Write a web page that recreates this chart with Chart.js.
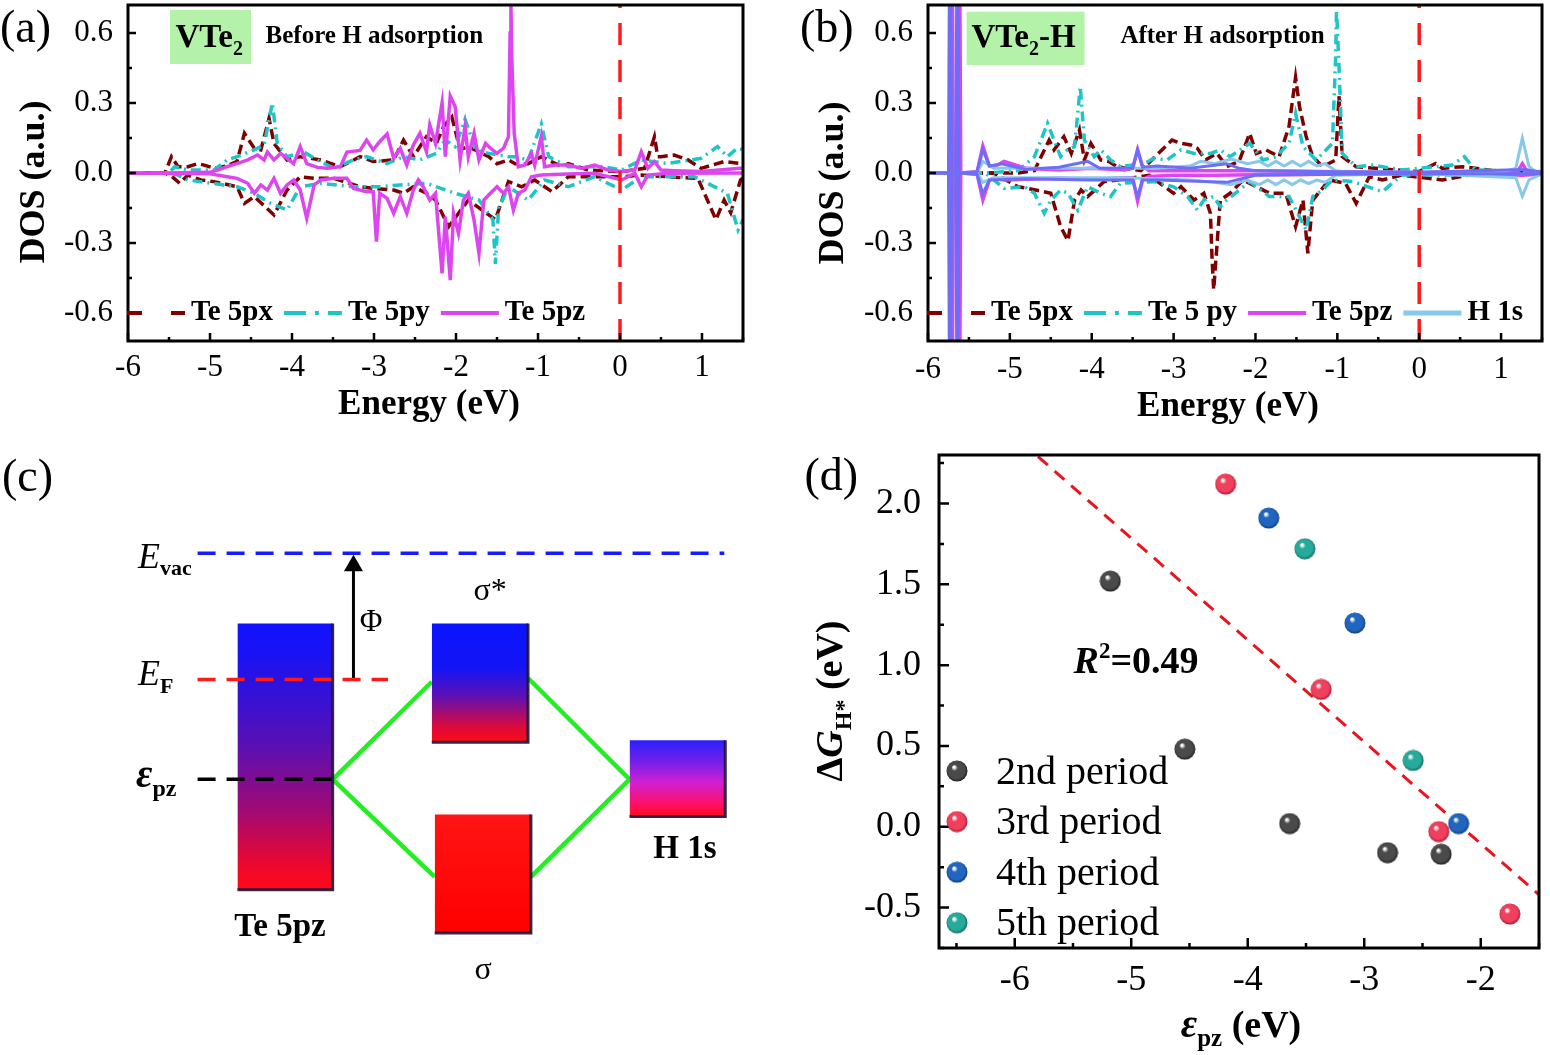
<!DOCTYPE html>
<html>
<head>
<meta charset="utf-8">
<script src="https://cdn.jsdelivr.net/npm/chart.js@4.4.1/dist/chart.umd.min.js"></script>
<style>
  body { margin: 0; background: #fff; width: 1550px; height: 1055px; position: relative; overflow: hidden; }
  canvas { position: absolute; }
</style>
</head>
<body>
<canvas id="chartA" width="780" height="425" style="left:0;top:0"></canvas>
<canvas id="chartB" width="750" height="425" style="left:800px;top:0"></canvas>
<canvas id="chartC" width="780" height="615" style="left:0;top:440px"></canvas>
<canvas id="chartD" width="760" height="615" style="left:790px;top:440px"></canvas>
<script>
// ---------- tick labels ----------
const energyTicks = [-6, -5, -4, -3, -2, -1, 0, 1];
const dosTicks = [-0.6, -0.3, 0, 0.3, 0.6];
const epzTicks = [-6, -5, -4, -3, -2];
const dgTicks = [-0.5, 0, 0.5, 1, 1.5, 2];
const fermiE = 0;

// ---------- (a) VTe2, before H adsorption ----------
const aPxUpE = [-6, -5.55, -5.47, -5.39, -5.27, -5.15, -5.07, -4.95, -4.8, -4.67, -4.58, -4.46, -4.38, -4.28, -4.22, -4.06, -3.90, -3.65, -3.41, -3.17, -3.01, -2.76, -2.64, -2.52, -2.36, -2.24, -2.15, -2.05, -1.95, -1.85, -1.60, -1.50, -1.36, -1.28, -1.12, -0.96, -0.71, -0.63, -0.39, 0.02, 0.3, 0.42, 0.46, 0.50, 0.66, 0.83, 0.99, 1.27, 1.47, 1.5];
const aPxUp = [0, 0, 0.07, 0.027, 0.027, 0.04, 0.034, 0.02, 0.03, 0.05, 0.17, 0.106, 0.099, 0.234, 0.127, 0.056, 0.07, 0.056, 0.027, 0.07, 0.049, 0.056, 0.141, 0.07, 0.156, 0.127, 0.2, 0.24, 0.1, 0.113, 0.07, 0.04, 0.056, 0.04, 0.04, 0.07, 0.027, 0.04, 0.013, 0.006, 0.02, 0.155, 0.07, 0.07, 0.077, 0.056, 0.02, 0.049, 0.041, 0.04];
const aPxDnE = [-6, -5.55, -5.47, -5.37, -5.27, -5.11, -4.95, -4.67, -4.58, -4.46, -4.22, -4.06, -3.90, -3.73, -3.49, -3.17, -3.01, -2.76, -2.64, -2.52, -2.36, -2.25, -2.09, -1.85, -1.52, -1.36, -1.20, -1.04, -0.83, -0.63, -0.21, 0.02, 0.26, 0.58, 0.95, 1.17, 1.27, 1.35, 1.47, 1.5];
const aPxDn = [0, 0, -0.013, -0.044, -0.009, -0.03, -0.037, -0.059, -0.13, -0.101, -0.18, -0.073, -0.016, -0.023, -0.023, -0.059, -0.066, -0.073, -0.087, -0.059, -0.087, -0.116, -0.23, -0.116, -0.2, -0.037, -0.059, -0.03, -0.08, -0.016, -0.016, -0.016, -0.009, -0.016, -0.023, -0.2, -0.116, -0.17, -0.03, -0.02];
const aPyUpE = [-6, -5.5, -5.43, -5.27, -4.95, -4.79, -4.67, -4.46, -4.34, -4.24, -4.18, -4.06, -3.86, -3.69, -3.49, -3.25, -3.09, -2.84, -2.64, -2.44, -2.24, -2.13, -2.01, -1.89, -1.76, -1.60, -1.36, -1.28, -1.12, -0.96, -0.87, -0.63, -0.21, 0.02, 0.26, 0.58, 0.99, 1.19, 1.31, 1.43, 1.5];
const aPyUp = [0, 0, 0.027, 0.013, 0.013, 0.056, 0.07, 0.099, 0.12, 0.3, 0.127, 0.07, 0.091, 0.056, 0.02, 0.056, 0.07, 0.04, 0.07, 0.056, 0.084, 0.141, 0.113, 0.23, 0.099, 0.084, 0.07, 0.07, 0.056, 0.21, 0.07, 0.027, 0.027, 0.013, 0.056, 0.041, 0.063, 0.113, 0.07, 0.106, 0.1];
const aPyDnE = [-6, -5.5, -5.39, -5.27, -4.83, -4.67, -4.46, -4.26, -4.06, -3.90, -3.65, -3.25, -2.93, -2.68, -2.36, -2.01, -1.72, -1.55, -1.52, -1.48, -1.36, -1.12, -0.92, -0.63, -0.31, 0.02, 0.26, 0.91, 1.31, 1.44, 1.5];
const aPyDn = [0, 0, -0.009, -0.03, -0.051, -0.059, -0.087, -0.13, -0.159, -0.059, -0.044, -0.059, -0.059, -0.051, -0.044, -0.087, -0.116, -0.2, -0.39, -0.15, -0.059, -0.116, -0.03, -0.059, -0.016, -0.073, -0.016, -0.016, -0.087, -0.244, -0.2];
const aPzUpE = [-6, -5.5, -5.0, -4.91, -4.79, -4.67, -4.54, -4.42, -4.34, -4.30, -4.22, -4.14, -4.06, -3.98, -3.90, -3.82, -3.69, -3.57, -3.41, -3.33, -3.17, -3.09, -3.01, -2.93, -2.84, -2.76, -2.68, -2.60, -2.52, -2.44, -2.36, -2.32, -2.25, -2.17, -2.13, -2.07, -2.01, -1.95, -1.89, -1.85, -1.78, -1.72, -1.64, -1.58, -1.50, -1.42, -1.36, -1.34, -1.33, -1.32, -1.29, -1.24, -1.16, -1.08, -1.04, -0.96, -0.92, -0.79, -0.63, -0.47, -0.31, -0.15, 0.02, 0.18, 0.26, 0.34, 0.42, 0.50, 0.66, 0.99, 1.47, 1.5];
const aPzUp = [0, 0, 0.003, 0.013, 0.027, 0.04, 0.056, 0.077, 0.056, 0.09, 0.056, 0.084, 0.063, 0.04, 0.113, 0.04, 0.024, 0.02, 0.027, 0.09, 0.097, 0.141, 0.099, 0.134, 0.167, 0.063, 0.106, 0.034, 0.120, 0.170, 0.091, 0.206, 0.127, 0.30, 0.07, 0.33, 0.284, 0.056, 0.199, 0.07, 0.170, 0.056, 0.127, 0.106, 0.084, 0.106, 0.156, 0.6, 0.72, 0.5, 0.17, 0.027, 0.034, 0.084, 0.034, 0.156, 0.027, 0.034, 0.034, 0.02, 0.034, 0.013, 0.006, 0.013, 0.091, 0.02, 0.049, 0.013, 0.01, 0.006, 0.02, 0.02];
const aPzDnE = [-6, -5.0, -4.91, -4.79, -4.67, -4.54, -4.46, -4.38, -4.30, -4.22, -4.14, -4.06, -3.98, -3.90, -3.82, -3.73, -3.65, -3.49, -3.33, -3.25, -3.09, -3.01, -2.97, -2.93, -2.84, -2.76, -2.68, -2.60, -2.52, -2.46, -2.40, -2.32, -2.25, -2.21, -2.17, -2.13, -2.07, -2.03, -1.97, -1.91, -1.85, -1.78, -1.72, -1.66, -1.58, -1.50, -1.42, -1.36, -1.30, -1.24, -1.16, -1.08, -0.96, -0.63, -0.31, 0.02, 0.18, 0.26, 0.34, 0.58, 1.47, 1.5];
const aPzDn = [0, -0.003, -0.009, -0.016, -0.023, -0.044, -0.087, -0.051, -0.073, -0.023, -0.087, -0.051, -0.03, -0.073, -0.194, -0.051, -0.03, -0.023, -0.023, -0.066, -0.08, -0.08, -0.294, -0.087, -0.109, -0.173, -0.101, -0.173, -0.073, -0.03, -0.059, -0.116, -0.087, -0.259, -0.43, -0.187, -0.459, -0.173, -0.259, -0.116, -0.087, -0.201, -0.344, -0.116, -0.087, -0.059, -0.087, -0.059, -0.159, -0.087, -0.073, -0.016, -0.009, -0.004, -0.001, -0.03, -0.001, -0.059, -0.009, -0.001, 0, 0];

// ---------- (b) VTe2-H, after H adsorption ----------
const bPxUpE = [-6, -5.3, -4.9, -4.70, -4.52, -4.46, -4.34, -4.25, -4.15, -4.09, -4.01, -3.89, -3.79, -3.69, -3.4, -3.02, -2.91, -2.79, -2.71, -2.61, -2.47, -2.35, -2.2, -2.07, -1.99, -1.87, -1.71, -1.59, -1.51, -1.46, -1.38, -1.30, -1.18, -1.02, -0.98, -0.94, -0.77, -0.53, 0.0, 0.20, 0.28, 0.53, 1.01, 1.5];
const bPxUp = [0, 0, 0, 0.01, 0.141, 0.099, 0.156, 0.084, 0.184, 0.056, 0.127, 0.056, 0.049, 0.027, 0.01, 0.141, 0.127, 0.12, 0.106, 0.056, 0.084, 0.027, 0.05, 0.17, 0.084, 0.099, 0.07, 0.2, 0.41, 0.28, 0.155, 0.07, 0.027, 0.056, 0.33, 0.07, 0.027, 0.02, 0.006, 0.041, 0.02, 0.027, 0.006, 0.004];
const bPxDnE = [-6, -5.2, -4.90, -4.78, -4.50, -4.38, -4.29, -4.21, -4.13, -4.05, -3.85, -3.69, -3.3, -3.0, -2.91, -2.75, -2.63, -2.55, -2.53, -2.51, -2.43, -2.31, -2.15, -1.83, -1.63, -1.51, -1.42, -1.36, -1.30, -1.10, -0.90, -0.77, -0.61, -0.45, -0.21, 0.28, 0.61, 1.5];
const bPxDn = [0, 0, -0.059, -0.066, -0.087, -0.23, -0.29, -0.116, -0.073, -0.101, -0.037, -0.03, -0.01, -0.087, -0.059, -0.116, -0.087, -0.173, -0.37, -0.5, -0.116, -0.087, -0.03, -0.087, -0.087, -0.23, -0.116, -0.344, -0.116, -0.03, -0.044, -0.13, -0.016, -0.03, -0.009, -0.03, -0.009, -0.004];
const bPyUpE = [-6, -5.3, -4.9, -4.70, -4.62, -4.54, -4.46, -4.38, -4.30, -4.21, -4.14, -4.09, -3.97, -3.89, -3.77, -3.65, -3.36, -3.24, -3.08, -2.91, -2.75, -2.55, -2.43, -2.31, -2.07, -1.91, -1.75, -1.59, -1.51, -1.42, -1.26, -1.06, -1.02, -1.01, -0.98, -0.94, -0.77, -0.57, -0.21, 0.20, 0.40, 0.55, 0.69, 1.42, 1.5];
const bPyUp = [0, 0, 0.01, 0.07, 0.141, 0.213, 0.141, 0.07, 0.099, 0.113, 0.37, 0.141, 0.07, 0.099, 0.056, 0.027, 0.041, 0.063, 0.056, 0.099, 0.084, 0.084, 0.099, 0.07, 0.127, 0.056, 0.07, 0.127, 0.256, 0.113, 0.056, 0.127, 0.5, 0.70, 0.46, 0.084, 0.027, 0.034, 0.013, 0.027, 0.034, 0.07, 0.013, 0.006, 0.006];
const bPyDnE = [-6, -5.3, -5.07, -4.82, -4.70, -4.58, -4.50, -4.38, -4.29, -4.17, -4.05, -3.89, -3.77, -3.65, -3.24, -3.0, -2.83, -2.71, -2.63, -2.51, -2.43, -2.35, -2.07, -1.83, -1.59, -1.38, -1.30, -1.18, -1.06, -0.81, -0.45, -0.21, 0.20, 1.42, 1.5];
const bPyDn = [0, 0, -0.066, -0.059, -0.087, -0.173, -0.116, -0.073, -0.087, -0.159, -0.059, -0.087, -0.101, -0.044, -0.037, -0.059, -0.101, -0.159, -0.116, -0.101, -0.144, -0.116, -0.037, -0.101, -0.101, -0.244, -0.101, -0.073, -0.03, -0.037, -0.08, -0.009, -0.009, -0.001, 0];
const bPzUpE = [-6, -5.73, -5.71, -5.69, -5.64, -5.62, -5.60, -5.4, -5.33, -5.25, -5.19, -5.07, -4.8, -4.4, -4.0, -3.6, -3.5, -3.44, -3.38, -3.3, -3.0, -2.5, -2.0, -1.0, 0, 1.2, 1.26, 1.32, 1.5];
const bPzUp = [0, 0, 1.5, 0, 0, 1.5, 0, 0.005, 0.115, 0.03, 0.027, 0.05, 0.02, 0.013, 0.02, 0.013, 0.02, 0.1, 0.03, 0.01, 0.01, 0.01, 0.01, 0.005, 0.002, 0.005, 0.04, 0.005, 0.004];
const bPzDnE = [-6, -5.73, -5.71, -5.69, -5.64, -5.62, -5.60, -5.4, -5.33, -5.25, -5.19, -5.07, -4.8, -4.4, -4.0, -3.6, -3.5, -3.44, -3.38, -3.3, -3.0, -2.5, -2.0, -1.0, 0, 1.26, 1.5];
const bPzDn = [0, 0, -1.5, 0, 0, -1.5, 0, -0.005, -0.115, -0.03, -0.023, -0.03, -0.027, -0.023, -0.027, -0.02, -0.02, -0.12, -0.03, -0.015, -0.01, -0.01, -0.008, -0.005, -0.002, -0.01, -0.004];
const bHsUpE = [-6, -5.4, -5.33, -5.2, -4.8, -4.4, -4.0, -3.6, -3.2, -2.8, -2.67, -2.5, -2.3, -2.1, -1.95, -1.85, -1.75, -1.65, -1.55, -1.45, -1.35, -1.25, -1.15, -1.02, -0.9, 0, 1.0, 1.18, 1.26, 1.34, 1.42, 1.5];
const bHsUp = [0, 0, 0.05, 0.02, 0.02, 0.02, 0.02, 0.02, 0.02, 0.03, 0.05, 0.04, 0.06, 0.04, 0.05, 0.03, 0.05, 0.03, 0.05, 0.03, 0.05, 0.03, 0.04, 0.01, 0.005, 0.003, 0.003, 0.02, 0.15, 0.03, 0.005, 0.004];
const bHsDnE = [-6, -5.4, -5.33, -5.2, -4.4, -3.6, -2.8, -2.5, -2.3, -2.1, -1.95, -1.85, -1.75, -1.65, -1.55, -1.45, -1.35, -1.25, -1.15, -1.02, 0, 1.18, 1.26, 1.34, 1.5];
const bHsDn = [0, 0, -0.04, -0.02, -0.02, -0.02, -0.03, -0.04, -0.05, -0.03, -0.05, -0.03, -0.05, -0.03, -0.05, -0.03, -0.045, -0.03, -0.04, -0.01, -0.002, -0.02, -0.1, -0.03, -0.004];
const bBlueUpE = [-6, -5.75, -5.73, -5.71, -5.66, -5.64, -5.62, -5.4, -5.33, -5.25, -5.1, -4.8, -4.4, -4.05, -3.9, -3.6, -3.5, -3.44, -3.38, -3.2, -2.8, -2.35, -2.2, -2.0, -1.0, 0, 1.3, 1.5];
const bBlueUp = [0, 0, 1.5, 0, 0, 1.5, 0, 0.005, 0.1, 0.03, 0.04, 0.015, 0.025, 0.05, 0.02, 0.02, 0.02, 0.1, 0.025, 0.03, 0.02, 0.04, 0.02, 0.01, 0.005, 0.003, 0.015, 0.003];
const bBlueDnE = [-6, -5.75, -5.73, -5.71, -5.66, -5.64, -5.62, -5.4, -5.33, -5.25, -4.8, -4.05, -3.6, -3.5, -3.44, -3.38, -3.2, -2.35, -2.0, -1.0, 0, 1.5];
const bBlueDn = [0, 0, -1.5, 0, 0, -1.5, 0, -0.005, -0.09, -0.03, -0.025, -0.03, -0.03, -0.03, -0.1, -0.03, -0.03, -0.04, -0.01, -0.005, -0.003, -0.003];

// ---------- (c) orbital scheme (diagram units, y downward) ----------
const levelNames = ['Evac', 'EF', 'epz'];
const levelY = [106, 237, 340.5];
const levelStart = [192, 192, 192];
const levelEnd = [734, 388, 330];
const bandNames = ['Te 5pz', 'σ*', 'σ', 'H 1s'];
const bandLeft = [233, 433, 436, 636.5];
const bandRight = [331, 532, 535, 735];
const bandTop = [179, 179, 377, 300];
const bandBottom = [455, 302, 500, 379];
const bondX0 = [331, 331, 532, 535];
const bondY0 = [340.5, 340.5, 235.4, 441.6];
const bondX1 = [433, 436, 636.5, 636.5];
const bondY1 = [239.3, 441.6, 340.5, 340.5];
const workX = 352.4, workFrom = 237, workTo = 119;

// ---------- (d) ΔG_H* vs ε_pz ----------
const p2X = [-5.18, -4.54, -3.64, -2.80, -2.34];
const p2Y = [1.52, 0.48, 0.02, -0.16, -0.17];
const p3X = [-4.19, -3.37, -2.36, -1.75];
const p3Y = [2.12, 0.85, -0.03, -0.54];
const p4X = [-3.82, -3.08, -2.19];
const p4Y = [1.91, 1.26, 0.02];
const p5X = [-3.51, -2.58];
const p5Y = [1.72, 0.41];
const fitX = [-5.80, -1.50];
const fitY = [2.29, -0.42];

// ---------- styles ----------
const SERIF = "'Liberation Serif', 'Times New Roman', 'DejaVu Serif', serif";
const F = (style, size) => `${style} ${size}px ${SERIF}`;
const C_PX = '#800000', C_PY = '#1ec5c8', C_PZ = '#dc46ef', C_HS = '#88c8ea', C_HB = '#6e6ef4', C_EF = '#ff1a1a';
const D_PX = [10, 5], D_PY = [10, 5, 2, 5];

Chart.defaults.font.family = SERIF;
Chart.defaults.color = '#000';

const pts = (xs, ys) => xs.map((v, i) => ({ x: v, y: ys[i] }));
function trace(xs, ys, color, width, dash, order) {
  return { data: pts(xs, ys), borderColor: color, borderWidth: width, borderDash: dash || [],
           pointRadius: 0, tension: 0, fill: false, order: order };
}
// fixed axis boxes, no extra label padding
const fixH = h => s => { s.height = h; s.paddingLeft = 0; s.paddingRight = 0; };
const fixW = w => s => { s.width = w; s.paddingTop = 0; s.paddingBottom = 0; };

// inward ticks + frame
const frameTicks = {
  id: 'frameTicks',
  afterDatasetsDraw(chart, args, o) {
    const { ctx: c, chartArea: a, scales: { x, y } } = chart;
    const minors = (ticks, s) => {
      const step = ticks[1] - ticks[0], out = [];
      for (let v = ticks[0] - step / 2; v <= s.max + 1e-9; v += step / 2) {
        if (v >= s.min - 1e-9 && !ticks.some(t => Math.abs(t - v) < 1e-6)) out.push(v);
      }
      return out;
    };
    const xt = x.ticks.map(t => t.value), yt = y.ticks.map(t => t.value);
    c.save();
    c.strokeStyle = '#000';
    c.lineWidth = o.tickWidth;
    c.beginPath();
    xt.forEach(v => { const p = x.getPixelForValue(v); c.moveTo(p, a.bottom); c.lineTo(p, a.bottom - o.major); });
    minors(xt, x).forEach(v => { const p = x.getPixelForValue(v); c.moveTo(p, a.bottom); c.lineTo(p, a.bottom - o.minor); });
    yt.forEach(v => { const p = y.getPixelForValue(v); c.moveTo(a.left, p); c.lineTo(a.left + o.major, p); });
    minors(yt, y).forEach(v => { const p = y.getPixelForValue(v); c.moveTo(a.left, p); c.lineTo(a.left + o.minor, p); });
    c.stroke();
    c.lineWidth = o.frameWidth;
    c.strokeRect(a.left, a.top, a.right - a.left, a.bottom - a.top);
    c.restore();
  }
};

// mixed-font text runs
function drawRuns(c, runs, x, y, align) {
  let w = 0;
  runs.forEach(r => { c.font = r.font; w += c.measureText(r.text).width; });
  let cx = align === 'center' ? x - w / 2 : (align === 'right' ? x - w : x);
  runs.forEach(r => { c.font = r.font; c.fillText(r.text, cx, y + (r.dy || 0)); cx += c.measureText(r.text).width; });
}
const texts = {
  id: 'texts',
  afterDraw(chart, args, o) {
    const c = chart.ctx;
    c.save();
    (o.boxes || []).forEach(b => { c.fillStyle = b.color; c.fillRect(b.x, b.y, b.w, b.h); });
    c.fillStyle = '#000';
    c.textBaseline = 'alphabetic';
    (o.items || []).forEach(it => {
      if (it.rotate) {
        c.save(); c.translate(it.x, it.y); c.rotate(-Math.PI / 2);
        drawRuns(c, it.runs, 0, 0, 'center');
        c.restore();
      } else {
        drawRuns(c, it.runs, it.x, it.y, it.align || 'left');
      }
    });
    c.restore();
  }
};

// legend drawn inside the DOS panels
const dosLegend = {
  id: 'dosLegend',
  afterDraw(chart, args, o) {
    const c = chart.ctx;
    let x = chart.chartArea.left - 1;
    c.save();
    o.items.forEach(it => {
      c.beginPath();
      c.setLineDash(it.dash);
      c.strokeStyle = it.color;
      c.lineWidth = it.width;
      c.moveTo(x, o.y); c.lineTo(x + o.sample, o.y); c.stroke();
      x += o.sample + o.gap;
      c.setLineDash([]);
      c.font = o.font; c.fillStyle = '#000'; c.textBaseline = 'middle';
      c.fillText(it.label, x, o.y);
      x += c.measureText(it.label).width + o.space;
    });
    c.restore();
  }
};

function dosOptions(rightPad, tickPad, legendItems, textItems, boxes) {
  return {
    responsive: false, animation: false,
    layout: { padding: { top: 5, right: rightPad, left: 0, bottom: 0 } },
    plugins: {
      legend: { display: false }, tooltip: { enabled: false },
      frameTicks: { tickWidth: 2.5, major: 8, minor: 4, frameWidth: 3 },
      dosLegend: { y: 313, sample: 58, gap: 6, space: 11, font: F('bold', 29), items: legendItems },
      texts: { items: textItems, boxes: boxes }
    },
    scales: {
      x: {
        type: 'linear', min: -6, max: 1.5,
        afterBuildTicks: s => { s.ticks = energyTicks.map(v => ({ value: v })); },
        afterFit: fixH(84),
        grid: { display: false, drawTicks: false }, border: { display: false },
        ticks: { font: { size: 31 }, color: '#000', padding: tickPad, autoSkip: false, maxRotation: 0, callback: v => String(v) }
      },
      y: {
        type: 'linear', min: -0.72, max: 0.72,
        afterBuildTicks: s => { s.ticks = dosTicks.map(v => ({ value: v })); },
        afterFit: fixW(128),
        grid: { display: false, drawTicks: false }, border: { display: false },
        ticks: { font: { size: 31 }, color: '#000', padding: 15, autoSkip: false, callback: v => v.toFixed(1) }
      }
    }
  };
}

// ---------- chart (a) ----------
new Chart(document.getElementById('chartA'), {
  type: 'line',
  data: { datasets: [
    trace([fermiE, fermiE], [-0.72, 0.72], C_EF, 3.5, [22, 15], 0),
    trace(aPzUpE, aPzUp, C_PZ, 3.5, [], 1),
    trace(aPzDnE, aPzDn, C_PZ, 3.5, [], 1),
    trace(aPyUpE, aPyUp, C_PY, 3.5, D_PY, 2),
    trace(aPyDnE, aPyDn, C_PY, 3.5, D_PY, 2),
    trace(aPxUpE, aPxUp, C_PX, 3.5, D_PX, 3),
    trace(aPxDnE, aPxDn, C_PX, 3.5, D_PX, 3)
  ] },
  options: dosOptions(37, 8,
    [ { label: 'Te 5px', color: C_PX, width: 4, dash: [15, 29] },
      { label: 'Te 5py', color: C_PY, width: 4, dash: [22, 9, 4, 9] },
      { label: 'Te 5pz', color: C_PZ, width: 4, dash: [] } ],
    [ { x: 0, y: 42, runs: [{ text: '(a)', font: F('normal', 46) }] },
      { x: 175.5, y: 47, runs: [{ text: 'VTe', font: F('bold', 33) }, { text: '2', font: F('bold', 20), dy: 8 }] },
      { x: 265.6, y: 43, runs: [{ text: 'Before H adsorption', font: F('bold', 25) }] },
      { x: 44, y: 182, rotate: true, runs: [{ text: 'DOS (a.u.)', font: F('bold', 36) }] },
      { x: 429, y: 414, align: 'center', runs: [{ text: 'Energy (eV)', font: F('bold', 35) }] } ],
    [ { x: 170, y: 10, w: 81, h: 54, color: '#b4f2aa' } ])
  ,
  plugins: [frameTicks, texts, dosLegend]
});

// ---------- chart (b) ----------
new Chart(document.getElementById('chartB'), {
  type: 'line',
  data: { datasets: [
    trace([fermiE, fermiE], [-0.72, 0.72], C_EF, 3.5, [22, 15], 0),
    trace(bBlueUpE, bBlueUp, C_HB, 3, [], 1),
    trace(bBlueDnE, bBlueDn, C_HB, 3, [], 1),
    trace(bHsUpE, bHsUp, C_HS, 3, [], 2),
    trace(bHsDnE, bHsDn, C_HS, 3, [], 2),
    trace(bPzUpE, bPzUp, C_PZ, 3.5, [], 3),
    trace(bPzDnE, bPzDn, C_PZ, 3.5, [], 3),
    trace(bPyUpE, bPyUp, C_PY, 3.5, D_PY, 4),
    trace(bPyDnE, bPyDn, C_PY, 3.5, D_PY, 4),
    trace(bPxUpE, bPxUp, C_PX, 3.5, D_PX, 5),
    trace(bPxDnE, bPxDn, C_PX, 3.5, D_PX, 5)
  ] },
  options: dosOptions(8, 10,
    [ { label: 'Te 5px', color: C_PX, width: 4, dash: [15, 29] },
      { label: 'Te 5 py', color: C_PY, width: 4, dash: [22, 9, 4, 9] },
      { label: 'Te 5pz', color: C_PZ, width: 4, dash: [] },
      { label: 'H 1s', color: C_HS, width: 5, dash: [] } ],
    [ { x: 0, y: 42, runs: [{ text: '(b)', font: F('normal', 46) }] },
      { x: 171.5, y: 47, runs: [{ text: 'VTe', font: F('bold', 33) }, { text: '2', font: F('bold', 20), dy: 8 }, { text: '-H', font: F('bold', 33) }] },
      { x: 320.4, y: 43, runs: [{ text: 'After H adsorption', font: F('bold', 25) }] },
      { x: 43, y: 183, rotate: true, runs: [{ text: 'DOS (a.u.)', font: F('bold', 36) }] },
      { x: 428, y: 416, align: 'center', runs: [{ text: 'Energy (eV)', font: F('bold', 35) }] } ],
    [ { x: 166.6, y: 11.7, w: 118, h: 53.3, color: '#b4f2aa' } ])
  ,
  plugins: [frameTicks, texts, dosLegend]
});

// ---------- chart (c) ----------
function bandFill(i, stops) {
  return function (ctx) {
    const chart = ctx.chart;
    if (!chart.chartArea) return stops[0][1];
    const y = chart.scales.y;
    const g = chart.ctx.createLinearGradient(0, y.getPixelForValue(bandTop[i]), 0, y.getPixelForValue(bandBottom[i]));
    stops.forEach(s => g.addColorStop(s[0], s[1]));
    return g;
  };
}
const bandStops = [
  [[0, '#1212ff'], [0.12, '#1a12f2'], [0.45, '#5810b4'], [0.7, '#a00a74'], [0.92, '#f0082a'], [1, '#ff0a1a']],
  [[0, '#0a14ff'], [0.38, '#1414f4'], [0.62, '#6010b0'], [0.86, '#d80a40'], [1, '#ff0a14']],
  [[0, '#ff1414'], [1, '#ff0000']],
  [[0, '#2a20ff'], [0.3, '#7a20e6'], [0.55, '#d020d4'], [0.85, '#ff1060'], [1, '#ff0a20']]
];
const cSets = [];
bandNames.forEach((n, i) => {
  cSets.push({ data: [{ x: bandLeft[i], y: bandTop[i] }, { x: bandRight[i], y: bandTop[i] }],
    borderWidth: 0, pointRadius: 0, fill: { value: bandBottom[i] }, backgroundColor: bandFill(i, bandStops[i]), order: 2 });
  cSets.push({ data: [{ x: bandRight[i], y: bandTop[i] }, { x: bandRight[i], y: bandBottom[i] }, { x: bandLeft[i], y: bandBottom[i] }],
    borderColor: 'rgba(30,18,55,0.9)', borderWidth: 3, pointRadius: 0, fill: false, order: 1 });
});
bondX0.forEach((v, i) => {
  cSets.push({ data: [{ x: v, y: bondY0[i] }, { x: bondX1[i], y: bondY1[i] }],
    borderColor: '#22ee22', borderWidth: 4.5, pointRadius: 0, fill: false, order: 3 });
});
const levelColors = ['#1a1aff', '#ff1a1a', '#000000'];
levelNames.forEach((n, i) => {
  cSets.push({ data: [{ x: levelStart[i], y: levelY[i] }, { x: levelEnd[i], y: levelY[i] }],
    borderColor: levelColors[i], borderWidth: 3.5, borderDash: [18, 11], pointRadius: 0, fill: false, order: 0 });
});
cSets.push({ data: [{ x: workX, y: workFrom }, { x: workX, y: workTo }],
  borderColor: '#000', borderWidth: 3, pointRadius: [0, 8], pointStyle: 'triangle',
  pointBackgroundColor: '#000', pointBorderColor: '#000', fill: false, order: 0 });

new Chart(document.getElementById('chartC'), {
  type: 'line',
  data: { datasets: cSets },
  options: {
    responsive: false, animation: false,
    layout: { padding: 0 },
    plugins: {
      legend: { display: false }, tooltip: { enabled: false },
      texts: { items: [
        { x: 2, y: 51, runs: [{ text: '(c)', font: F('normal', 46) }] },
        { x: 138, y: 128, runs: [{ text: 'E', font: F('italic', 36) }, { text: 'vac', font: F('bold', 22), dy: 7 }] },
        { x: 138, y: 245, runs: [{ text: 'E', font: F('italic', 36) }, { text: 'F', font: F('bold', 22), dy: 8 }] },
        { x: 136, y: 347, runs: [{ text: 'ε', font: F('italic bold', 40) }, { text: 'pz', font: F('bold', 24), dy: 9 }] },
        { x: 371, y: 191, align: 'center', runs: [{ text: 'Φ', font: F('normal', 31) }] },
        { x: 490, y: 160, align: 'center', runs: [{ text: 'σ*', font: F('normal', 32) }] },
        { x: 280, y: 496, align: 'center', runs: [{ text: 'Te 5pz', font: F('bold', 33) }] },
        { x: 483, y: 539, align: 'center', runs: [{ text: 'σ', font: F('normal', 32) }] },
        { x: 685, y: 418, align: 'center', runs: [{ text: 'H 1s', font: F('bold', 33) }] }
      ] }
    },
    scales: {
      x: { type: 'linear', min: 0, max: 780, display: false },
      y: { type: 'linear', min: 0, max: 615, reverse: true, display: false }
    }
  },
  plugins: [texts]
});

// ---------- chart (d) ----------
function ball(color, dark) {
  const cv = document.createElement('canvas');
  cv.width = 22; cv.height = 22;
  const c = cv.getContext('2d');
  const g = c.createRadialGradient(8, 7, 1, 11, 11, 11);
  g.addColorStop(0, '#ffffff');
  g.addColorStop(0.22, color);
  g.addColorStop(0.75, color);
  g.addColorStop(1, dark);
  c.fillStyle = g;
  c.beginPath(); c.arc(11, 11, 10.5, 0, Math.PI * 2); c.fill();
  return cv;
}
const balls = [ball('#4a4a4a', '#1a1a1a'), ball('#f0405c', '#a01030'), ball('#2066c0', '#0c3370'), ball('#26aa9c', '#0e5e55')];
const periodNames = ['2nd period', '3rd period', '4th period', '5th period'];

const legendD = {
  id: 'legendD',
  afterDraw(chart) {
    const c = chart.ctx;
    c.save();
    c.font = F('normal', 40); c.fillStyle = '#000'; c.textBaseline = 'middle';
    periodNames.forEach((n, i) => {
      const y = 331 + i * 50.6;
      c.drawImage(balls[i], 167 - 11, y - 11);
      c.fillText(n, 206, y + 2);
    });
    c.restore();
  }
};

const dot = (xs, ys, i) => ({ type: 'scatter', data: pts(xs, ys), pointStyle: balls[i], pointRadius: 10, order: 1 });
new Chart(document.getElementById('chartD'), {
  type: 'scatter',
  data: { datasets: [
    dot(p2X, p2Y, 0), dot(p3X, p3Y, 1), dot(p4X, p4Y, 2), dot(p5X, p5Y, 3),
    { type: 'line', data: pts(fitX, fitY), borderColor: '#e8141e', borderWidth: 3, borderDash: [13, 9], pointRadius: 0, fill: false, order: 2 }
  ] },
  options: {
    responsive: false, animation: false,
    layout: { padding: { top: 15, right: 5, left: 0, bottom: 0 } },
    plugins: {
      legend: { display: false }, tooltip: { enabled: false },
      frameTicks: { tickWidth: 2.5, major: 10, minor: 5, frameWidth: 3 },
      texts: { items: [
        { x: 14.5, y: 50, runs: [{ text: '(d)', font: F('normal', 46) }] },
        { x: 283.6, y: 233, runs: [{ text: 'R', font: F('italic bold', 38) }, { text: '2', font: F('bold', 23), dy: -15 }, { text: '=0.49', font: F('bold', 38) }] },
        { x: 52, y: 261, rotate: true, runs: [{ text: 'Δ', font: F('bold', 38) }, { text: 'G', font: F('italic bold', 38) }, { text: 'H*', font: F('bold', 24), dy: 9 }, { text: ' (eV)', font: F('bold', 38) }] },
        { x: 451, y: 597, align: 'center', runs: [{ text: 'ε', font: F('italic bold', 40) }, { text: 'pz', font: F('bold', 25), dy: 9 }, { text: ' (eV)', font: F('bold', 38) }] }
      ] }
    },
    scales: {
      x: {
        type: 'linear', min: -6.65, max: -1.5,
        afterBuildTicks: s => { s.ticks = epzTicks.map(v => ({ value: v })); },
        afterFit: fixH(107),
        grid: { display: false, drawTicks: false }, border: { display: false },
        ticks: { font: { size: 36 }, color: '#000', padding: 11, autoSkip: false, maxRotation: 0, callback: v => String(v) }
      },
      y: {
        type: 'linear', min: -0.75, max: 2.3,
        afterBuildTicks: s => { s.ticks = dgTicks.map(v => ({ value: v })); },
        afterFit: fixW(149),
        grid: { display: false, drawTicks: false }, border: { display: false },
        ticks: { font: { size: 36 }, color: '#000', padding: 18, autoSkip: false, callback: v => v.toFixed(1) }
      }
    }
  },
  plugins: [frameTicks, texts, legendD]
});
</script>
</body>
</html>
